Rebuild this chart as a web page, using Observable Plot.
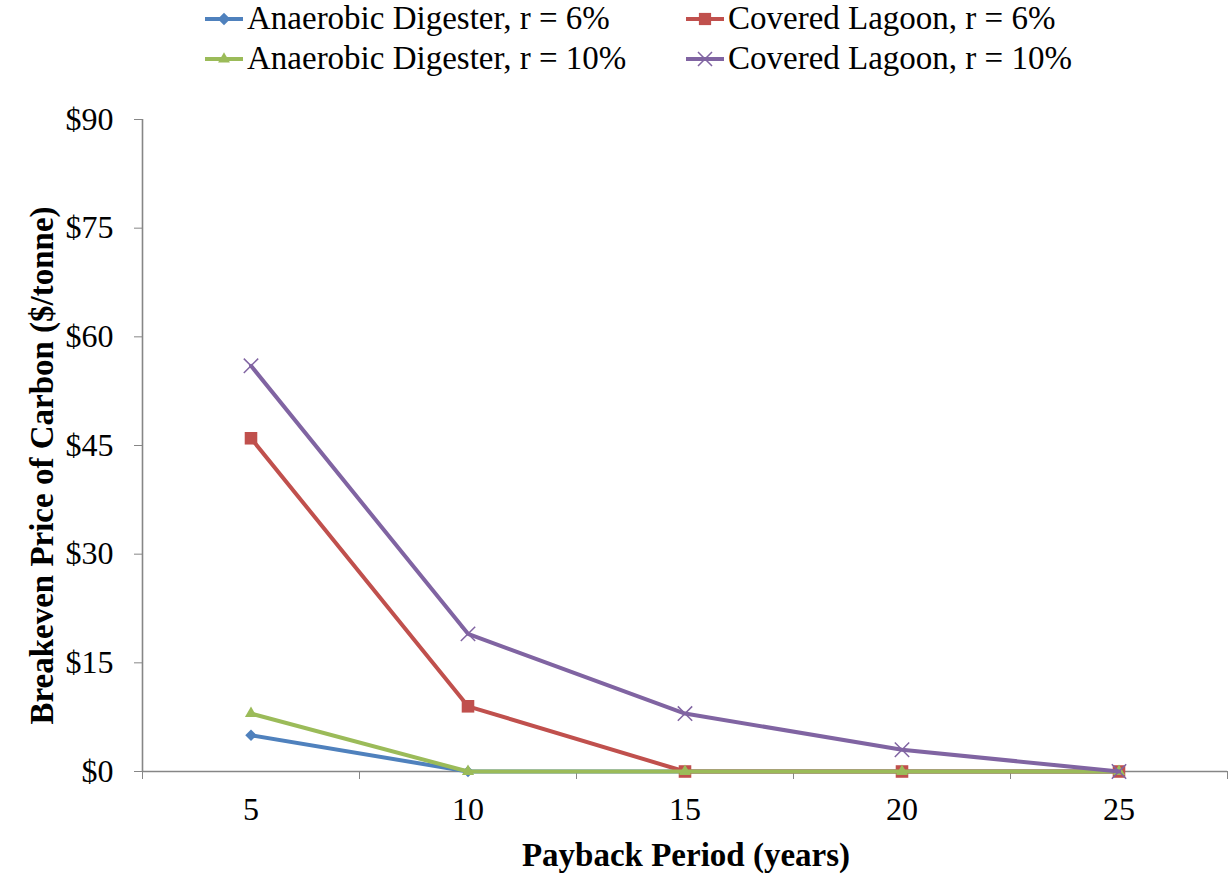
<!DOCTYPE html>
<html>
<head>
<meta charset="utf-8">
<script src="https://cdn.jsdelivr.net/npm/d3@7"></script>
<script src="https://cdn.jsdelivr.net/npm/@observablehq/plot@0.6"></script>
<style>
  html, body { margin: 0; padding: 0; background: #fff; }
  #chart { width: 1228px; font-family: "Liberation Serif", "Times New Roman", serif; }
  #legend { position: relative; width: 1228px; height: 88px; }
  .item { position: absolute; display: flex; align-items: center; height: 33px; line-height: 33px; font-size: 33px; color: #000; white-space: nowrap; }
  .item svg { display: block; margin-right: 4px; }
</style>
</head>
<body>
<div id="chart">
  <div id="legend"></div>
</div>
<script>
// Payback periods (years) and breakeven carbon prices ($/tonne)
const periods = [5, 10, 15, 20, 25];
const digesterR6 = [5, 0, 0, 0, 0];
const lagoonR6 = [46, 9, 0, 0, 0];
const digesterR10 = [8, 0, 0, 0, 0];
const lagoonR10 = [56, 19, 8, 3, 0];

const yTicks = [0, 15, 30, 45, 60, 75, 90];
const xTitle = "Payback Period (years)";
const yTitle = "Breakeven Price of Carbon ($/tonne)";

const series = [
  {name: "Anaerobic Digester, r = 6%", values: digesterR6, color: "#4F81BD", symbol: "diamond2", r: 5.2, d3sym: d3.symbolDiamond2, size: 100, col: 0, row: 0},
  {name: "Covered Lagoon, r = 6%", values: lagoonR6, color: "#C0504D", symbol: "square2", r: 8, d3sym: d3.symbolSquare2, size: 190, col: 1, row: 0},
  {name: "Anaerobic Digester, r = 10%", values: digesterR10, color: "#9BBB59", symbol: "triangle2", r: 5.8, d3sym: d3.symbolTriangle2, size: 100, col: 0, row: 1},
  {name: "Covered Lagoon, r = 10%", values: lagoonR10, color: "#8064A2", symbol: "times", r: 6.6, d3sym: d3.symbolTimes, size: 130, col: 1, row: 1}
];

// Legend: two rows, two columns
const legend = document.getElementById("legend");
const colLeft = [205, 686];
const rowTop = [2, 42];
for (const s of series) {
  const item = document.createElement("div");
  item.className = "item";
  item.style.left = colLeft[s.col] + "px";
  item.style.top = rowTop[s.row] + "px";
  const path = d3.symbol(s.d3sym, s.size)();
  const stroked = s.symbol === "times";
  item.innerHTML =
    `<svg width="38" height="20" viewBox="0 0 38 20">
       <line x1="0" y1="10" x2="38" y2="10" stroke="${s.color}" stroke-width="4"/>
       <path d="${path}" transform="translate(19,10)" fill="${stroked ? "none" : s.color}" stroke="${stroked ? s.color : "none"}" stroke-width="1.5"/>
     </svg><span>${s.name}</span>`;
  legend.appendChild(item);
}

const rows = series.map(s => periods.map((p, i) => ({period: p, value: s.values[i], name: s.name})));
const boundaries = d3.range(periods.length + 1).map(i => periods[0] - 2.5 + 5 * i);
const gray = "#868686";

const marks = [
  Plot.ruleY([0], {stroke: gray, strokeWidth: 1.6}),
  Plot.ruleX([boundaries[0]], {stroke: gray, strokeWidth: 1.6}),
  Plot.axisY(yTicks, {tickSize: 8, tickPadding: 21, stroke: gray, fill: "#000", tickFormat: d => "$" + d, label: null, fontSize: 32}),
  Plot.axisX(periods, {tickSize: 0, tickPadding: 26, fill: "#000", label: null, fontSize: 32}),
  Plot.axisX(boundaries, {tickSize: 8, stroke: gray, tickFormat: () => "", label: null}),
  Plot.text([xTitle], {text: d => d, frameAnchor: "bottom", dx: 1, dy: 84, textAnchor: "middle", lineAnchor: "middle", fontWeight: "bold", fontSize: 33, fill: "#000"}),
  Plot.text([yTitle], {text: d => d, frameAnchor: "left", rotate: -90, dx: -100, dy: 20, textAnchor: "middle", lineAnchor: "middle", fontWeight: "bold", fontSize: 33, fill: "#000"})
];

series.forEach((s, k) => {
  marks.push(Plot.line(rows[k], {x: "period", y: "value", stroke: s.color, strokeWidth: 4}));
  if (s.symbol === "times") {
    marks.push(Plot.dot(rows[k], {x: "period", y: "value", symbol: s.symbol, r: s.r, stroke: s.color, strokeWidth: 1.5, fill: "none"}));
  } else {
    marks.push(Plot.dot(rows[k], {x: "period", y: "value", symbol: s.symbol, r: s.r, fill: s.color, stroke: "none"}));
  }
});

const plot = Plot.plot({
  width: 1228,
  height: 788,
  marginTop: 31,
  marginBottom: 105,
  marginLeft: 142,
  marginRight: 1,
  x: {domain: [boundaries[0], boundaries[boundaries.length - 1]]},
  y: {domain: [0, 90]},
  style: {fontFamily: "'Liberation Serif', 'Times New Roman', serif", fontSize: "32px", color: "#000", background: "#fff", overflow: "visible"},
  marks
});
document.getElementById("chart").appendChild(plot);
</script>
</body>
</html>
